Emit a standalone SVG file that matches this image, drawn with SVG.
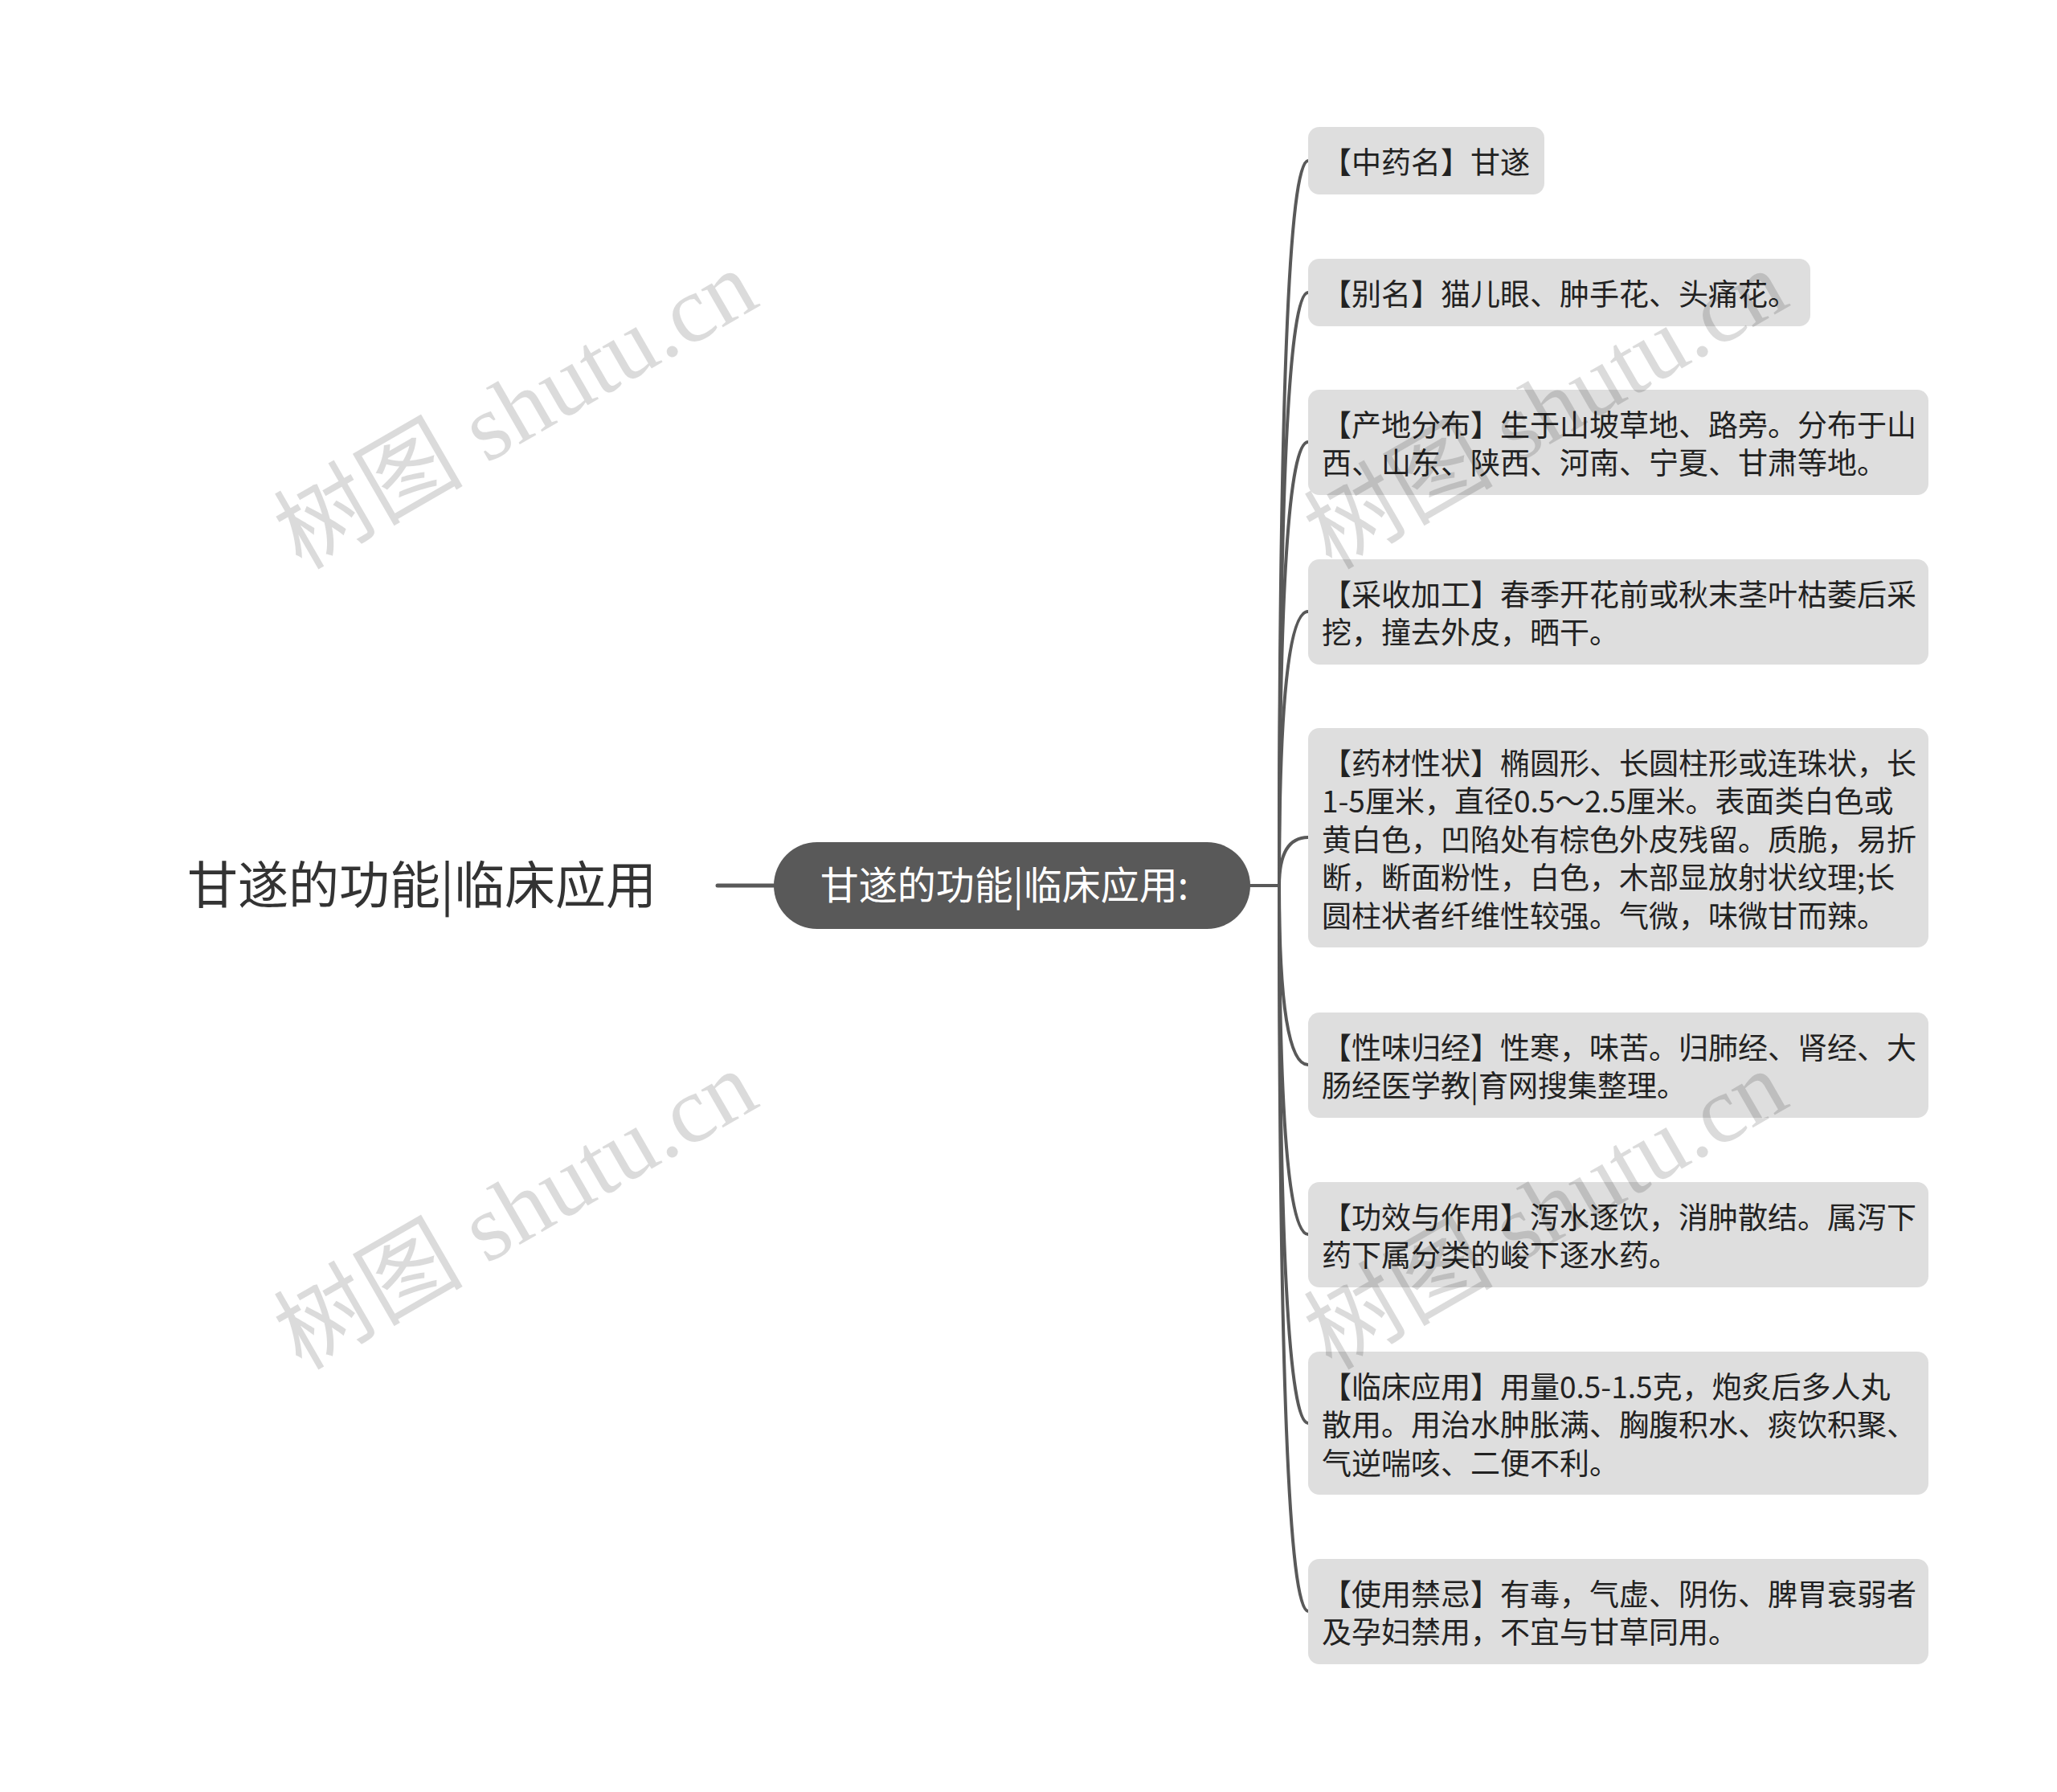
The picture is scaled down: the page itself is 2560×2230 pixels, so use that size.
<svg xmlns="http://www.w3.org/2000/svg" width="2560" height="2230" viewBox="0 0 2560 2230">
<style>
.bg{fill:#ffffff}
.box{fill:#dedede}
.t{font-family:"Noto Sans CJK SC","Noto Sans",sans-serif;font-size:37px;fill:#222222}
.root{font-family:"Noto Sans CJK SC","Noto Sans",sans-serif;font-size:63px;fill:#333333}
.ctr{fill:#595959}
.ctrt{font-family:"Noto Sans CJK SC","Noto Sans",sans-serif;font-size:48px;fill:#ffffff}
.ln{fill:none;stroke:#595959;stroke-width:4;stroke-linecap:round}
.wm{font-family:"Liberation Serif","Noto Sans CJK SC",serif;font-size:118px;fill:#000000;fill-opacity:0.14}
</style>
<rect class="bg" x="0" y="0" width="2560" height="2230"/>

<g id="connectors">
  <path class="ln" d="M893 1102 L963 1102" style="stroke-width:5"/>
  <path class="ln" d="M1556 1102 L1592 1102"/>
  <path class="ln" d="M1592 1102 Q1592 200 1628 200"/>
  <path class="ln" d="M1592 1102 Q1592 364 1628 364"/>
  <path class="ln" d="M1592 1102 Q1592 550 1628 550"/>
  <path class="ln" d="M1592 1102 Q1592 761 1628 761"/>
  <path class="ln" d="M1592 1102 Q1592 1042 1628 1042"/>
  <path class="ln" d="M1592 1102 Q1592 1325 1628 1325"/>
  <path class="ln" d="M1592 1102 Q1592 1536 1628 1536"/>
  <path class="ln" d="M1592 1102 Q1592 1771 1628 1771"/>
  <path class="ln" d="M1592 1102 Q1592 2005 1628 2005"/>
</g>

<g id="root">
  <text class="root" x="233" y="1124">甘遂的功能|临床应用</text>
</g>

<g id="center">
  <rect class="ctr" x="963" y="1048" width="593" height="108" rx="54"/>
  <text class="ctrt" x="1250" y="1119" text-anchor="middle">甘遂的功能|临床应用:</text>
</g>

<g id="n1">
  <rect class="box" x="1628" y="158" width="294" height="84" rx="14"/>
  <text class="t" x="1645" y="216">【中药名】甘遂</text>
</g>
<g id="n2">
  <rect class="box" x="1628" y="322" width="625" height="84" rx="14"/>
  <text class="t" x="1645" y="380">【别名】猫儿眼、肿手花、头痛花。</text>
</g>
<g id="n3">
  <rect class="box" x="1628" y="485" width="772" height="131" rx="14"/>
  <text class="t" x="1645" y="543">【产地分布】生于山坡草地、路旁。分布于山</text>
  <text class="t" x="1645" y="590.4">西、山东、陕西、河南、宁夏、甘肃等地。</text>
</g>
<g id="n4">
  <rect class="box" x="1628" y="696" width="772" height="131" rx="14"/>
  <text class="t" x="1645" y="754">【采收加工】春季开花前或秋末茎叶枯萎后采</text>
  <text class="t" x="1645" y="801.4">挖，撞去外皮，晒干。</text>
</g>
<g id="n5">
  <rect class="box" x="1628" y="906" width="772" height="273" rx="14"/>
  <text class="t" x="1645" y="964">【药材性状】椭圆形、长圆柱形或连珠状，长</text>
  <text class="t" x="1645" y="1011.4">1-5厘米，直径0.5～2.5厘米。表面类白色或</text>
  <text class="t" x="1645" y="1058.8">黄白色，凹陷处有棕色外皮残留。质脆，易折</text>
  <text class="t" x="1645" y="1106.2">断，断面粉性，白色，木部显放射状纹理;长</text>
  <text class="t" x="1645" y="1153.6">圆柱状者纤维性较强。气微，味微甘而辣。</text>
</g>
<g id="n6">
  <rect class="box" x="1628" y="1260" width="772" height="131" rx="14"/>
  <text class="t" x="1645" y="1318">【性味归经】性寒，味苦。归肺经、肾经、大</text>
  <text class="t" x="1645" y="1365.4">肠经医学教|育网搜集整理。</text>
</g>
<g id="n7">
  <rect class="box" x="1628" y="1471" width="772" height="131" rx="14"/>
  <text class="t" x="1645" y="1529">【功效与作用】泻水逐饮，消肿散结。属泻下</text>
  <text class="t" x="1645" y="1576.4">药下属分类的峻下逐水药。</text>
</g>
<g id="n8">
  <rect class="box" x="1628" y="1682" width="772" height="178" rx="14"/>
  <text class="t" x="1645" y="1740">【临床应用】用量0.5-1.5克，炮炙后多人丸</text>
  <text class="t" x="1645" y="1787.4">散用。用治水肿胀满、胸腹积水、痰饮积聚、</text>
  <text class="t" x="1645" y="1834.8">气逆喘咳、二便不利。</text>
</g>
<g id="n9">
  <rect class="box" x="1628" y="1940" width="772" height="131" rx="14"/>
  <text class="t" x="1645" y="1998">【使用禁忌】有毒，气虚、阴伤、脾胃衰弱者</text>
  <text class="t" x="1645" y="2045.4">及孕妇禁用，不宜与甘草同用。</text>
</g>

<g id="watermarks">
  <text class="wm" x="375" y="710" transform="rotate(-30 375 710)">树图 shutu.cn</text>
  <text class="wm" x="375" y="1706" transform="rotate(-30 375 1706)">树图 shutu.cn</text>
  <text class="wm" x="1657" y="710" transform="rotate(-30 1657 710)">树图 shutu.cn</text>
  <text class="wm" x="1657" y="1706" transform="rotate(-30 1657 1706)">树图 shutu.cn</text>
</g>
</svg>
